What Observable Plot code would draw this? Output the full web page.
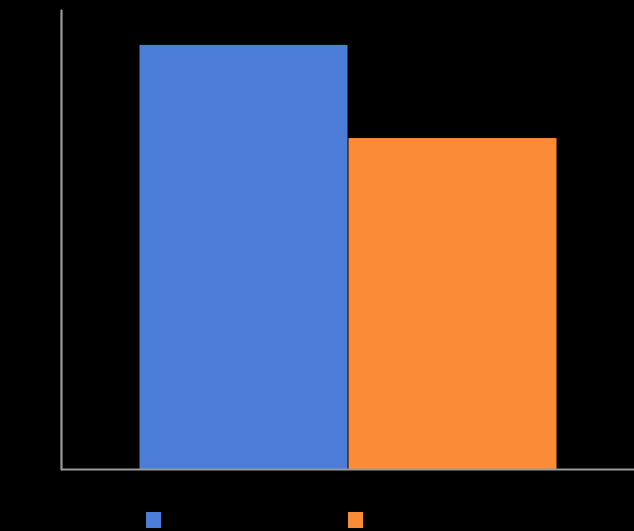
<!DOCTYPE html>
<html>
<head>
<meta charset="utf-8">
<script src="https://cdn.jsdelivr.net/npm/d3@7"></script>
<script src="https://cdn.jsdelivr.net/npm/@observablehq/plot@0.6"></script>
<style>
  html, body { margin: 0; padding: 0; background: #000; }
  #chart svg { display: block; background: #000; }
  .legend { position: relative; width: 634px; height: 31px; font: 12px "Liberation Sans", sans-serif; color: #000; }
  .item { position: absolute; top: 12px; display: flex; align-items: center; gap: 6px; }
  .sw { width: 15px; height: 16px; display: inline-block; }
</style>
</head>
<body>
<div id="chart"></div>
<div class="legend" id="legend"></div>
<script>
const categories = ["Series 1", "Series 2"];
const values = [92.4, 72.1];
const colors = ["#4B7DD9", "#FB8B36"];
const yMax = 100;

const data = categories.map((c, i) => ({category: c, value: values[i]}));

const plot = Plot.plot({
  width: 634,
  height: 500,
  marginTop: 10,
  marginLeft: 61,
  marginRight: 0,
  marginBottom: 31,
  style: {background: "#000", color: "#000"},
  x: {domain: categories, paddingInner: 0, paddingOuter: 0.368, axis: null},
  y: {domain: [0, yMax], axis: null},
  color: {domain: categories, range: colors},
  marks: [
    Plot.barY(data, {x: "category", y: "value", fill: "category", inset: 0, insetLeft: 0.5, insetRight: 0.5}),
    Plot.frame({anchor: "left", stroke: "#9a9a9a", strokeWidth: 2.2, strokeLinecap: "round"}),
    Plot.ruleY([0], {stroke: "#9a9a9a", strokeWidth: 2.2})
  ]
});
document.getElementById("chart").append(plot);

const legendX = [146, 348];
const legend = document.getElementById("legend");
categories.forEach((c, i) => {
  const item = document.createElement("div");
  item.className = "item";
  item.style.left = legendX[i] + "px";
  const sw = document.createElement("span");
  sw.className = "sw";
  sw.style.background = colors[i];
  const label = document.createElement("span");
  label.textContent = c;
  item.append(sw, label);
  legend.append(item);
});
</script>
</body>
</html>
